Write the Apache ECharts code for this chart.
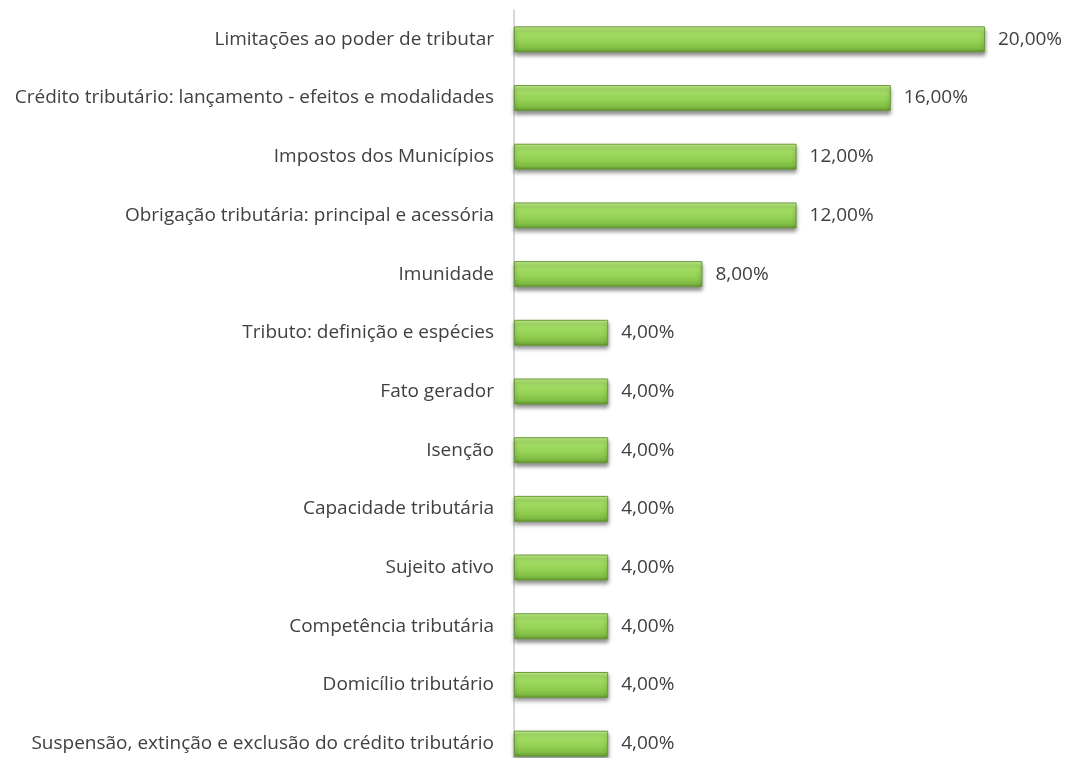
<!DOCTYPE html>
<html>
<head>
<meta charset="utf-8">
<style>
  html, body { margin: 0; padding: 0; background: #fff; overflow: hidden; }
  #chart { width: 1069px; height: 773px; }
</style>
<script src="https://cdn.jsdelivr.net/npm/echarts@6/dist/echarts.min.js"></script>
</head>
<body>
<div id="chart"></div>
<script>
var categories = [
  'Limitações ao poder de tributar',
  'Crédito tributário: lançamento - efeitos e modalidades',
  'Impostos dos Municípios',
  'Obrigação tributária: principal e acessória',
  'Imunidade',
  'Tributo: definição e espécies',
  'Fato gerador',
  'Isenção',
  'Capacidade tributária',
  'Sujeito ativo',
  'Competência tributária',
  'Domicílio tributário',
  'Suspensão, extinção e exclusão do crédito tributário'
];
var percents = [20, 16, 12, 12, 8, 4, 4, 4, 4, 4, 4, 4, 4];

var chart = echarts.init(document.getElementById('chart'));

var barColor = new echarts.graphic.LinearGradient(0, 0, 0, 1, [
  { offset: 0, color: '#c8f394' },
  { offset: 0.15, color: '#a9e26a' },
  { offset: 0.6, color: '#93d053' },
  { offset: 0.85, color: '#80bc43' },
  { offset: 1, color: '#5f9230' }
]);

chart.setOption({
  animation: false,
  grid: { left: 514, top: 10, width: 22 * 23.55, bottom: 0, containLabel: false },
  xAxis: {
    type: 'value',
    min: 0,
    max: 22,
    show: false
  },
  yAxis: {
    type: 'category',
    inverse: true,
    data: categories,
    axisLine: { show: true, lineStyle: { color: '#d9d9d9', width: 2 } },
    axisTick: { show: false },
    axisLabel: {
      margin: 20,
      color: '#404040',
      fontSize: 19,
      fontFamily: 'Open Sans'
    }
  },
  series: [{
    type: 'bar',
    data: percents,
    barWidth: 26,
    itemStyle: {
      color: barColor,
      borderColor: '#6a9a3a',
      borderWidth: 1,
      shadowColor: 'rgba(0,0,0,0.45)',
      shadowBlur: 4,
      shadowOffsetY: 3
    },
    label: {
      show: true,
      position: 'right',
      distance: 13,
      color: '#404040',
      fontSize: 19,
      fontFamily: 'Open Sans',
      formatter: function (p) { return p.value.toFixed(2).replace('.', ',') + '%'; }
    }
  }]
});
</script>
</body>
</html>
